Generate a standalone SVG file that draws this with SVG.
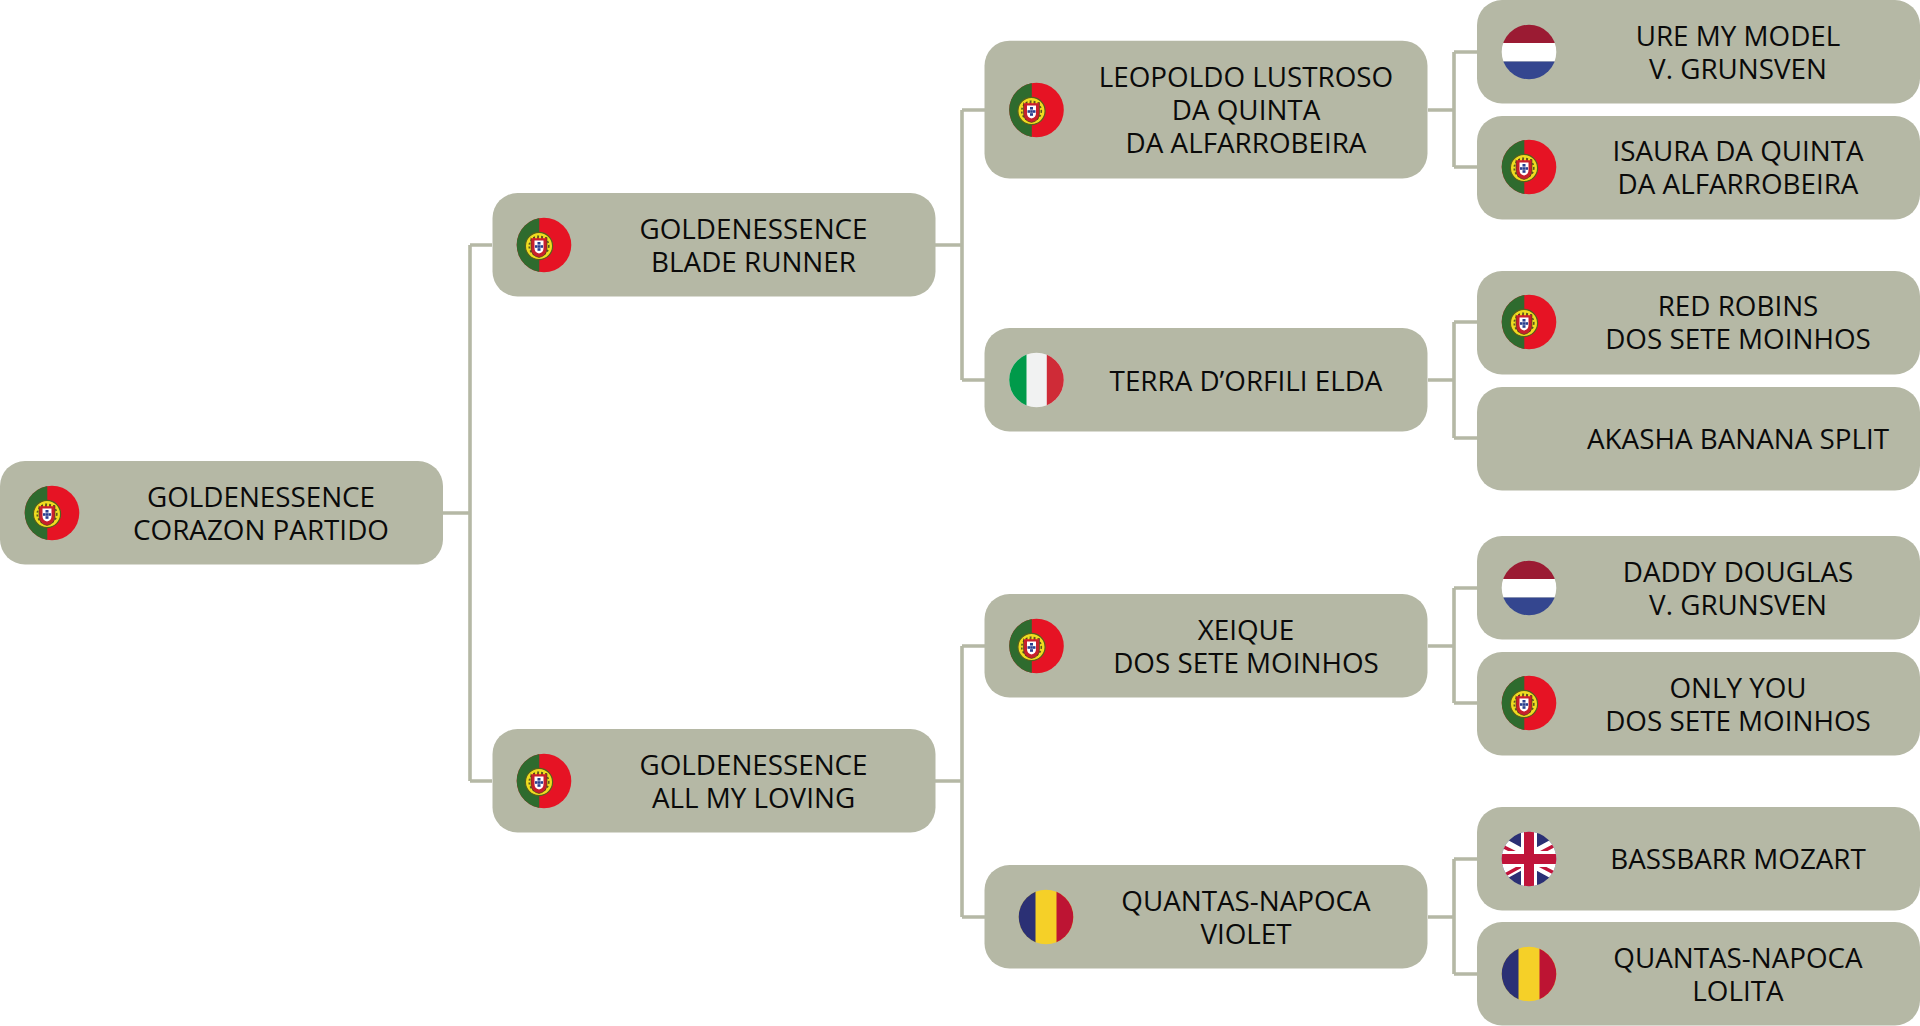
<svg xmlns="http://www.w3.org/2000/svg" width="1920" height="1026" viewBox="0 0 1920 1026">
<style>
.box{fill:#b5b8a5}
.lbl{font-family:"Open Sans","Noto Sans",sans-serif;font-size:27.8px;fill:#0a0a0a;text-anchor:middle}
.con{fill:none;stroke:#b5b8a5;stroke-width:3.6}
</style>
<defs>
<clipPath id="c"><circle cx="0" cy="0" r="27.3"/></clipPath>
<g id="pt" clip-path="url(#c)">
<rect x="-28" y="-28" width="56" height="56" fill="#e61324"/>
<rect x="-28" y="-28" width="23.3" height="56" fill="#2e6b2e"/>
<circle cx="-5" cy="1" r="13.6" fill="#f0dc20" stroke="#56601c" stroke-width="1.2"/>
<circle cx="-5" cy="1" r="9.800" fill="none" stroke="#5a5a20" stroke-width="1.6" stroke-dasharray="2 2"/>
<path d="M-13-7.500H3V3Q3 11-5 12.500-13 11-13 3Z" fill="#c8202c" stroke="#3d3a18" stroke-width=".6"/>
<path d="M-13-7.500H3" stroke="#f0dc20" stroke-width="1.400" stroke-dasharray="2 2"/>
<path d="M-9.500-4.500H-.5V3Q-.5 7.500-5 8.500-9.500 7.500-9.500 3Z" fill="#fff"/>
<rect x="-6.500" y="-3" width="3" height="2.600" fill="#2a3f8f"/>
<rect x="-6.500" y="3.200" width="3" height="2.600" fill="#2a3f8f"/>
<rect x="-9" y=".2" width="2.600" height="2.600" fill="#2a3f8f"/>
<rect x="-3.600" y=".2" width="2.600" height="2.600" fill="#2a3f8f"/>
<rect x="-6.300" y=".2" width="2.600" height="2.600" fill="#2a3f8f"/>
</g>
<g id="nl" clip-path="url(#c)">
<rect x="-28" y="-28" width="56" height="19" fill="#9b1b33"/>
<rect x="-28" y="-9" width="56" height="18.500" fill="#fff"/>
<rect x="-28" y="9.500" width="56" height="19" fill="#34468f"/>
</g>
<g id="it" clip-path="url(#c)">
<rect x="-28" y="-28" width="56" height="56" fill="#f1f2f2"/>
<rect x="-28" y="-28" width="18" height="56" fill="#009a4a"/>
<rect x="10.300" y="-28" width="18" height="56" fill="#cf2b37"/>
</g>
<g id="ro" clip-path="url(#c)">
<rect x="-28" y="-28" width="56" height="56" fill="#f5d028"/>
<rect x="-28" y="-28" width="17.500" height="56" fill="#2b3075"/>
<rect x="10.500" y="-28" width="18" height="56" fill="#bd1433"/>
</g>
<g id="uk" clip-path="url(#c)">
<rect x="-28" y="-28" width="56" height="56" fill="#2b3075"/>
<path d="M-28-15.400 28 15.400M28-15.400-28 15.400" stroke="#fff" stroke-width="13"/>
<path d="M-28-13.500-6-2.500M28-15-6 3M-26 17-4 5M28 15.500 6 4" stroke="#c0143a" stroke-width="3.500"/>
<path d="M0-28V28M-28 0H28" stroke="#fff" stroke-width="16"/>
<path d="M0-28V28M-28 0H28" stroke="#c0143a" stroke-width="10"/>
</g>
</defs>
<g id="connectors" class="con">
<path d="M443 513H470M470 245V781M470 245H492M470 781H492"/>
<path d="M935 245H962M962 110V380M962 110H985M962 380H985"/>
<path d="M935 781H962M962 646V917M962 646H985M962 917H985"/>
<path d="M1428 110H1454M1454 52V167M1454 52H1477M1454 167H1477"/>
<path d="M1428 380H1454M1454 322V438M1454 322H1477M1454 438H1477"/>
<path d="M1428 646H1454M1454 588V703M1454 588H1477M1454 703H1477"/>
<path d="M1428 917H1454M1454 859V974M1454 859H1477M1454 974H1477"/>
</g>
<g id="n-root"><rect class="box" x="0" y="461" width="443" height="103.500" rx="25"/><use href="#pt" x="52" y="513"/><text class="lbl" x="261" y="507">GOLDENESSENCE</text><text class="lbl" x="261" y="540">CORAZON PARTIDO</text></g>
<g id="n-blade"><rect class="box" x="492.500" y="193" width="443" height="103.500" rx="25"/><use href="#pt" x="544" y="245"/><text class="lbl" x="753.500" y="239">GOLDENESSENCE</text><text class="lbl" x="753.500" y="272">BLADE RUNNER</text></g>
<g id="n-loving"><rect class="box" x="492.500" y="729" width="443" height="103.500" rx="25"/><use href="#pt" x="544" y="781"/><text class="lbl" x="753.500" y="775">GOLDENESSENCE</text><text class="lbl" x="753.500" y="808">ALL MY LOVING</text></g>
<g id="n-leopoldo"><rect class="box" x="984.500" y="40.700" width="443" height="137.800" rx="25"/><use href="#pt" x="1036.500" y="110"/><text class="lbl" x="1246" y="87">LEOPOLDO LUSTROSO</text><text class="lbl" x="1246" y="120">DA QUINTA</text><text class="lbl" x="1246" y="153">DA ALFARROBEIRA</text></g>
<g id="n-terra"><rect class="box" x="984.500" y="328" width="443" height="103.500" rx="25"/><use href="#it" x="1036.500" y="380"/><text class="lbl" x="1246" y="391">TERRA D’ORFILI ELDA</text></g>
<g id="n-xeique"><rect class="box" x="984.500" y="594" width="443" height="103.500" rx="25"/><use href="#pt" x="1036.500" y="646"/><text class="lbl" x="1246" y="640">XEIQUE</text><text class="lbl" x="1246" y="673">DOS SETE MOINHOS</text></g>
<g id="n-violet"><rect class="box" x="984.500" y="865" width="443" height="103.500" rx="25"/><use href="#ro" x="1046" y="917"/><text class="lbl" x="1246" y="911">QUANTAS-NAPOCA</text><text class="lbl" x="1246" y="944">VIOLET</text></g>
<g id="n-ure"><rect class="box" x="1477" y="0" width="443" height="103.500" rx="25"/><use href="#nl" x="1529" y="52"/><text class="lbl" x="1738" y="46">URE MY MODEL</text><text class="lbl" x="1738" y="79">V. GRUNSVEN</text></g>
<g id="n-isaura"><rect class="box" x="1477" y="116" width="443" height="103.500" rx="25"/><use href="#pt" x="1529" y="167"/><text class="lbl" x="1738" y="161">ISAURA DA QUINTA</text><text class="lbl" x="1738" y="194">DA ALFARROBEIRA</text></g>
<g id="n-red"><rect class="box" x="1477" y="271" width="443" height="103.500" rx="25"/><use href="#pt" x="1529" y="322"/><text class="lbl" x="1738" y="316">RED ROBINS</text><text class="lbl" x="1738" y="349">DOS SETE MOINHOS</text></g>
<g id="n-akasha"><rect class="box" x="1477" y="387" width="443" height="103.500" rx="25"/><text class="lbl" x="1738" y="449">AKASHA BANANA SPLIT</text></g>
<g id="n-daddy"><rect class="box" x="1477" y="536" width="443" height="103.500" rx="25"/><use href="#nl" x="1529" y="588"/><text class="lbl" x="1738" y="582">DADDY DOUGLAS</text><text class="lbl" x="1738" y="615">V. GRUNSVEN</text></g>
<g id="n-only"><rect class="box" x="1477" y="652" width="443" height="103.500" rx="25"/><use href="#pt" x="1529" y="703"/><text class="lbl" x="1738" y="698">ONLY YOU</text><text class="lbl" x="1738" y="731">DOS SETE MOINHOS</text></g>
<g id="n-bassbarr"><rect class="box" x="1477" y="807" width="443" height="103.500" rx="25"/><use href="#uk" x="1529" y="859"/><text class="lbl" x="1738" y="869">BASSBARR MOZART</text></g>
<g id="n-lolita"><rect class="box" x="1477" y="922" width="443" height="103.500" rx="25"/><use href="#ro" x="1529" y="974"/><text class="lbl" x="1738" y="968">QUANTAS-NAPOCA</text><text class="lbl" x="1738" y="1001">LOLITA</text></g>
</svg>
